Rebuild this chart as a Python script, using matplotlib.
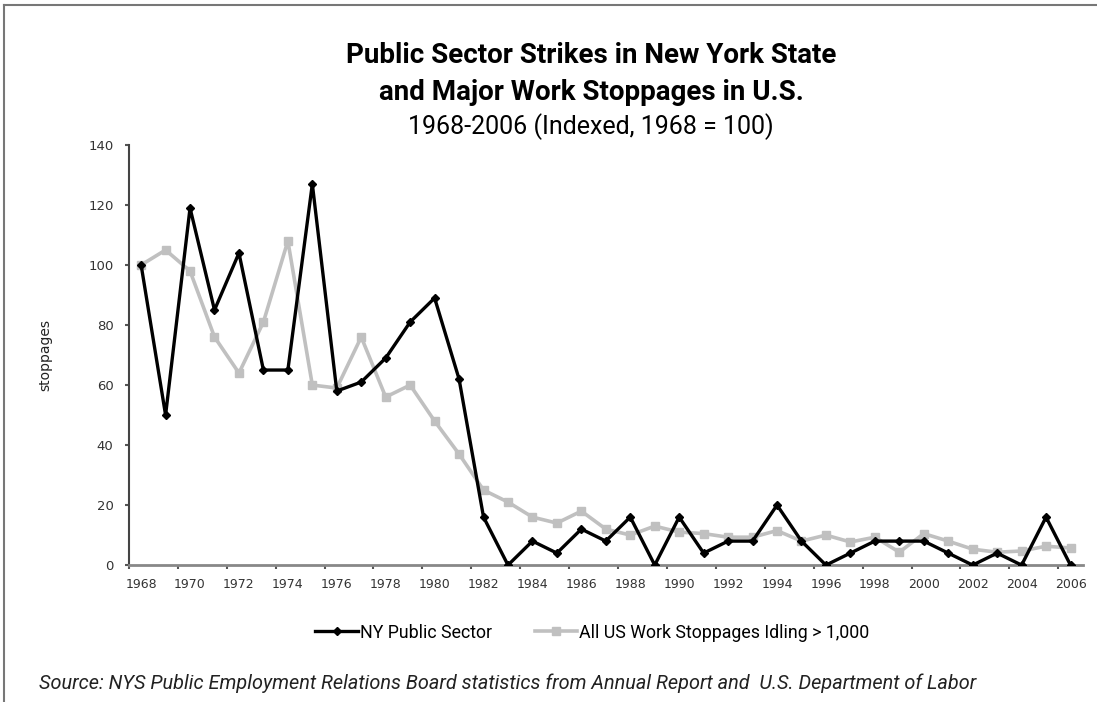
import numpy as np
import matplotlib
matplotlib.use("Agg")
import matplotlib.pyplot as plt
from matplotlib.lines import Line2D
from matplotlib.ticker import MultipleLocator

years = list(range(1968, 2007))

ny_public = [100, 50, 119, 85, 104, 65, 65, 127, 58, 61, 69, 81, 89, 62,
             16, 0, 8, 4, 12, 8, 16, 0, 16, 4, 8, 8, 20, 8, 0, 4,
             8, 8, 8, 4, 0, 4, 0, 16, 0]

us_stoppages = [100, 105, 98, 76, 64, 81, 108, 60, 59, 76, 56, 60, 48, 37,
                25, 21, 16, 14, 18, 12, 10, 13, 11, 10.5, 9.3, 9.3, 11.5, 8, 10, 7.7,
                9.3, 4.3, 10.5, 8, 5.3, 4.3, 4.7, 6.3, 5.7]

year_labels = [str(y) for y in years[::2]]
y_ticks = list(range(0, 141, 20))

FONT = ["Roboto", "DejaVu Sans"]
GRAY = "#c0c0c0"

fig = plt.figure(figsize=(10.97, 7.02), dpi=100)
ax = fig.add_axes([0.1175, 0.195, 0.8695, 0.5985])

ax.plot(years, us_stoppages, color=GRAY, lw=2.6, marker="s", ms=6,
        mec=GRAY, mfc=GRAY, zorder=2)
ax.plot(years, ny_public, color="black", lw=2.4, marker="D", ms=4.5,
        mec="black", mfc="black", zorder=3)

ax.set_xlim(1967.5, 2006.5)
ax.set_ylim(0, 140)

ax.set_xticks(years[::2])
ax.set_xticklabels(year_labels)
ax.xaxis.set_minor_locator(MultipleLocator(2, offset=1.5))
ax.tick_params(axis="x", which="major", length=0, pad=9, labelsize=9, labelcolor="#333333")
ax.tick_params(axis="x", which="minor", length=3, width=1.5, color="#555555", direction="out")
ax.set_yticks(y_ticks)
ax.tick_params(axis="y", length=3, width=1.5, color="#555555", pad=8,
               labelsize=9.5, labelcolor="#333333")

for side in ("top", "right"):
    ax.spines[side].set_visible(False)
ax.spines["left"].set_color("#444444")
ax.spines["left"].set_linewidth(1.5)
ax.spines["bottom"].set_color("#888888")
ax.spines["bottom"].set_linewidth(2)

ax.set_ylabel("stoppages", fontsize=10, color="#222222", labelpad=26)

fig.text(0.539, 0.921, "Public Sector Strikes in New York State", ha="center", va="center",
         fontsize=20, fontweight="bold", family=FONT)
fig.text(0.539, 0.868, "and Major Work Stoppages in U.S.", ha="center", va="center",
         fontsize=20, fontweight="bold", family=FONT)
fig.text(0.539, 0.819, "1968-2006 (Indexed, 1968 = 100)", ha="center", va="center",
         fontsize=18, family=FONT)

handles = [Line2D([], [], color="black", lw=2.4, marker="D", ms=4.5),
           Line2D([], [], color=GRAY, lw=2.6, marker="s", ms=6)]
fig.legend(handles, ["NY Public Sector", "All US Work Stoppages Idling > 1,000"],
           loc="center", bbox_to_anchor=(0.540, 0.099), ncol=2, frameon=False,
           handlelength=2.4, handletextpad=0.1, columnspacing=2.4,
           prop={"family": FONT, "size": 12.8})

fig.text(0.036, 0.027, "Source: NYS Public Employment Relations Board statistics from Annual Report and  U.S. Department of Labor",
         ha="left", va="center", fontsize=14.3, style="italic", family=FONT, color="#222222")

# frame lines on top and left edge
fig.add_artist(Line2D([0.004, 1.0], [0.993, 0.993], transform=fig.transFigure, color="#777777", lw=1.5))
fig.add_artist(Line2D([0.004, 0.004], [0.0, 0.993], transform=fig.transFigure, color="#777777", lw=1.5))

fig.savefig("out.png", dpi=100, facecolor="white")
